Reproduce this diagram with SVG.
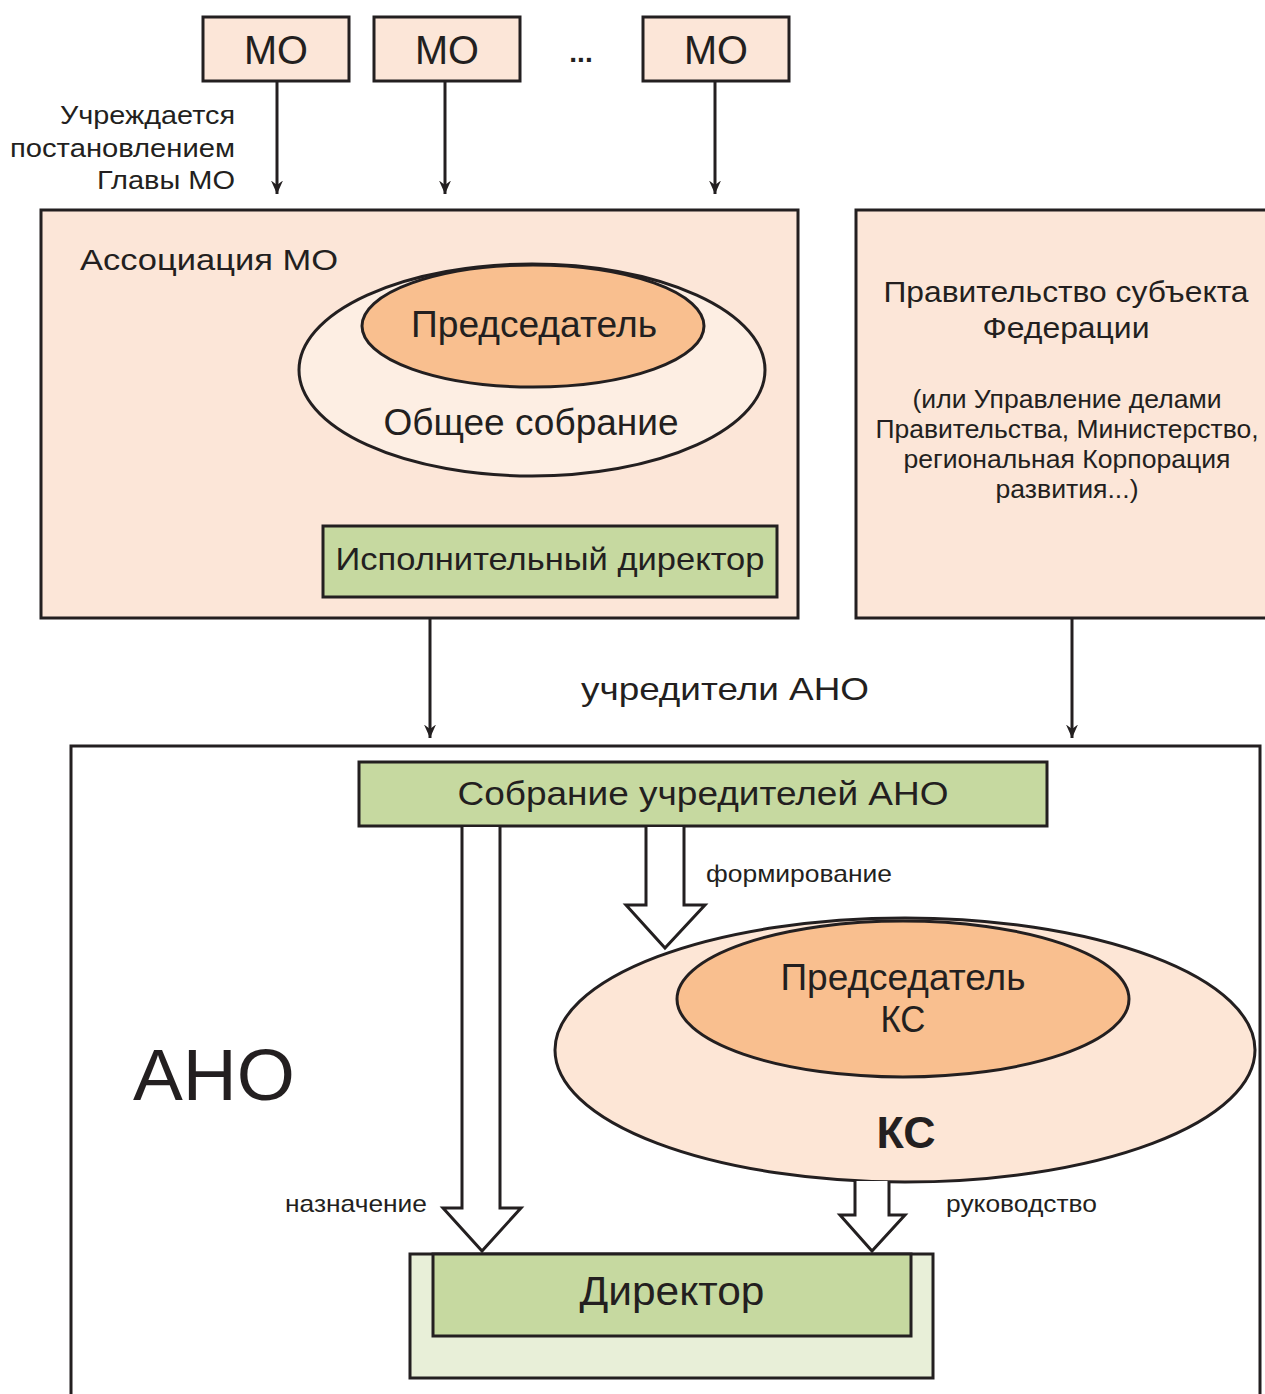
<svg xmlns="http://www.w3.org/2000/svg" width="1265" height="1394" viewBox="0 0 1265 1394">
<defs>
<style>
text{font-family:"Liberation Sans",Arial,sans-serif;fill:#231f20}
.box{fill:#fce6d8;stroke:#231f20;stroke-width:3}
.green{fill:#c6d9a0;stroke:#231f20;stroke-width:3}
.ln{stroke:#231f20;stroke-width:3;fill:none}
.hollow{fill:#fff;stroke:#231f20;stroke-width:3;stroke-linejoin:miter}
.c{text-anchor:middle}
.r{text-anchor:end}
</style>
<marker id="ah" viewBox="0 0 10 10" refX="9" refY="5" markerWidth="5" markerHeight="5" orient="auto" markerUnits="strokeWidth">
<path d="M0,1 L9,5 L0,9 L3,5 z" fill="#231f20"/>
</marker>
</defs>
<rect width="1265" height="1394" fill="#fff"/>

<g id="mo1"><rect class="box" x="203" y="17" width="146" height="64"/><text class="c" x="276" y="64" font-size="40" textLength="64" lengthAdjust="spacingAndGlyphs">МО</text></g>
<g id="mo2"><rect class="box" x="374" y="17" width="146" height="64"/><text class="c" x="447" y="64" font-size="40" textLength="64" lengthAdjust="spacingAndGlyphs">МО</text></g>
<g id="dots"><text class="c" x="581" y="62" font-size="28" font-weight="bold">...</text></g>
<g id="mo3"><rect class="box" x="643" y="17" width="146" height="64"/><text class="c" x="716" y="64" font-size="40" textLength="64" lengthAdjust="spacingAndGlyphs">МО</text></g>

<g id="label-founded">
<text class="r" x="235" y="124" font-size="26" textLength="175" lengthAdjust="spacingAndGlyphs">Учреждается</text>
<text class="r" x="235" y="157" font-size="26" textLength="225" lengthAdjust="spacingAndGlyphs">постановлением</text>
<text class="r" x="235" y="189" font-size="26" textLength="138" lengthAdjust="spacingAndGlyphs">Главы МО</text>
</g>

<g id="association">
<rect class="box" x="41" y="210" width="757" height="408"/>
<text x="80" y="270" font-size="30" textLength="258" lengthAdjust="spacingAndGlyphs">Ассоциация МО</text>
<ellipse cx="532" cy="370" rx="233" ry="106" fill="#fdeee3" stroke="#231f20" stroke-width="3"/>
<ellipse cx="533" cy="326" rx="171" ry="61" fill="#f9bf8f" stroke="#231f20" stroke-width="3"/>
<text class="c" x="534" y="337" font-size="36" textLength="246" lengthAdjust="spacingAndGlyphs">Председатель</text>
<text class="c" x="531" y="435" font-size="36" textLength="295" lengthAdjust="spacingAndGlyphs">Общее собрание</text>
</g>
<g id="exec-director">
<rect class="green" x="323" y="526" width="454" height="71"/>
<text class="c" x="550" y="570" font-size="32" textLength="429" lengthAdjust="spacingAndGlyphs">Исполнительный директор</text>
</g>

<g id="government">
<rect class="box" x="856" y="210" width="420" height="408"/>
<text class="c" x="1066" y="302" font-size="30" textLength="365" lengthAdjust="spacingAndGlyphs">Правительство субъекта</text>
<text class="c" x="1066" y="338" font-size="30" textLength="167" lengthAdjust="spacingAndGlyphs">Федерации</text>
<text class="c" x="1067" y="408" font-size="25" textLength="309" lengthAdjust="spacingAndGlyphs">(или Управление делами</text>
<text class="c" x="1067" y="438" font-size="25" textLength="383" lengthAdjust="spacingAndGlyphs">Правительства, Министерство,</text>
<text class="c" x="1067" y="468" font-size="25" textLength="327" lengthAdjust="spacingAndGlyphs">региональная Корпорация</text>
<text class="c" x="1067" y="498" font-size="25" textLength="143" lengthAdjust="spacingAndGlyphs">развития...)</text>
</g>

<g id="founders-label"><text class="c" x="725" y="700" font-size="32" textLength="288" lengthAdjust="spacingAndGlyphs">учредители АНО</text></g>

<g id="ano">
<rect x="71" y="746" width="1189" height="680" fill="#fff" stroke="#231f20" stroke-width="3"/>
<text x="133" y="1100" font-size="72" textLength="162" lengthAdjust="spacingAndGlyphs">АНО</text>
</g>

<g id="founders-meeting">
<rect class="green" x="359" y="762" width="688" height="64"/>
<text class="c" x="703" y="805" font-size="34" textLength="491" lengthAdjust="spacingAndGlyphs">Собрание учредителей АНО</text>
</g>

<g id="ks">
<ellipse cx="905" cy="1050" rx="350" ry="132" fill="#fde6d6" stroke="#231f20" stroke-width="3"/>
<ellipse cx="903" cy="999" rx="226" ry="78" fill="#f9bf8f" stroke="#231f20" stroke-width="3"/>
<text class="c" x="903" y="990" font-size="36" textLength="245" lengthAdjust="spacingAndGlyphs">Председатель</text>
<text class="c" x="903" y="1032" font-size="36" textLength="45" lengthAdjust="spacingAndGlyphs">КС</text>
<text class="c" x="906" y="1148" font-size="44" font-weight="bold" textLength="59" lengthAdjust="spacingAndGlyphs">КС</text>
</g>

<g id="director">
<rect x="410" y="1254" width="523" height="124" fill="#e8efd8" stroke="#231f20" stroke-width="3"/>
<rect class="green" x="433" y="1254" width="478" height="82"/>
<text class="c" x="672" y="1305" font-size="40" textLength="185" lengthAdjust="spacingAndGlyphs">Директор</text>
</g>

<g id="connectors">
<line class="ln" x1="277" y1="82" x2="277" y2="194" marker-end="url(#ah)"/>
<line class="ln" x1="445" y1="82" x2="445" y2="194" marker-end="url(#ah)"/>
<line class="ln" x1="715" y1="82" x2="715" y2="194" marker-end="url(#ah)"/>
<line class="ln" x1="430" y1="619" x2="430" y2="738" marker-end="url(#ah)"/>
<line class="ln" x1="1072" y1="619" x2="1072" y2="738" marker-end="url(#ah)"/>
<path class="hollow" d="M646,827 L646,905 L626,905 L665,948 L705,905 L684,905 L684,827"/>
<path class="hollow" d="M462,827 L462,1208 L443,1208 L482,1251 L521,1208 L500,1208 L500,827"/>
<path class="hollow" d="M855,1181 L855,1215 L840,1215 L872,1251 L905,1215 L889,1215 L889,1181"/>
<text x="706" y="882" font-size="24" textLength="186" lengthAdjust="spacingAndGlyphs">формирование</text>
<text class="r" x="427" y="1212" font-size="24" textLength="142" lengthAdjust="spacingAndGlyphs">назначение</text>
<text x="946" y="1212" font-size="24" textLength="151" lengthAdjust="spacingAndGlyphs">руководство</text>
</g>
</svg>
